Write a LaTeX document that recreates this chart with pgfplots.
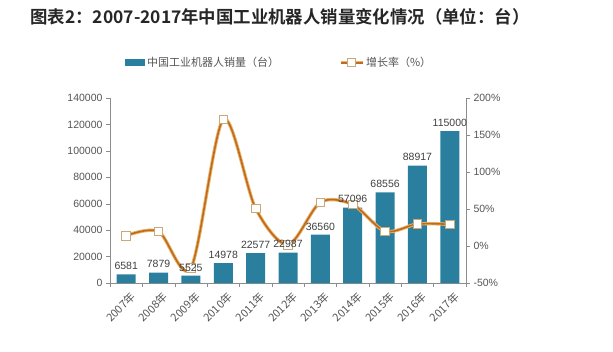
\documentclass[border=0pt]{standalone}
\usepackage{pgfplots}
\pgfplotsset{compat=1.18}
\usepackage{fontspec}
\setmainfont{Liberation Sans}
\newfontfamily\cjk{Noto Sans CJK SC}[BoldFont={Noto Sans CJK SC Bold}]
\definecolor{barc}{HTML}{2A7F9E}
\definecolor{lineo}{HTML}{E8B56A}
\definecolor{linei}{HTML}{C06A1E}
\definecolor{mk}{HTML}{C9A97A}
\definecolor{axc}{HTML}{8C8C8C}
\definecolor{tk}{HTML}{555555}
\pgfplotstableread{
x  y
0  6581
1  7879
2  5525
3  14978
4  22577
5  22987
6  36560
7  57096
8  68556
9  88917
10 115000
}\sales
\pgfplotstableread{
x  g
0  14
1  19.7
2  -29.9
3  171
4  50.7
5  1.8
6  59
7  56
8  20
9  29.7
10 29.3
}\growth
\begin{document}
\begin{tikzpicture}[x=1pt,y=1pt]
\useasboundingbox (0,0) rectangle (613,351);
\node[anchor=west, font=\cjk\bfseries\fontsize{17.4}{20}\selectfont, text=black!85] at (27,334) {图表2：2007-2017年中国工业机器人销量变化情况（单位：台）};

\begin{axis}[
 at={(110pt,68pt)}, anchor=south west, scale only axis, width=356pt, height=185pt,
 xmin=-0.5, xmax=10.5, ymin=0, ymax=140000,
 axis x line*=bottom, axis y line*=left,
 ybar, bar width=19pt,
 ytick={0,20000,...,140000},
 scaled y ticks=false,
 /pgf/number format/assume math mode=true,
 yticklabel style={/pgf/number format/fixed, /pgf/number format/1000 sep={}, font=\fontsize{10.5}{12}\selectfont, text=tk},
 xtick={0,...,10},
 xticklabels={2007年,2008年,2009年,2010年,2011年,2012年,2013年,2014年,2015年,2016年,2017年},
 xticklabel style={font=\cjk\fontsize{11}{13}\selectfont, rotate=45, anchor=north east, text=tk, yshift=-2pt, xshift=3pt},
 major x tick style={draw=none},
 minor xtick={-0.5,0.5,...,10.5},
 minor tick length=4pt, major tick length=4pt,
 tick align=outside,
 axis line style={axc}, tick style={axc},
 every tick/.style={axc},
 legend style={at={(0.475,1.19)}, anchor=center, draw=none, fill=none, legend columns=2, font=\cjk\fontsize{11}{14}\selectfont, text=tk, /tikz/every even column/.append style={column sep=58pt}},
 legend cell align=left,
]
\addplot[fill=barc, draw=none, legend image code/.code={\fill[barc] (0pt,-3.5pt) rectangle (20pt,3.5pt);}] table[x=x,y=y] {\sales};
\addlegendentry{中国工业机器人销量（台）}
\addlegendimage{legend image code/.code={\draw[lineo, line width=3pt] (0pt,0pt) -- (22pt,0pt); \draw[linei,line width=1.5pt](0pt,0pt)--(22pt,0pt); \draw[mk, fill=white, line width=0.8pt] (7pt,-4pt) rectangle (15pt,4pt);}}
\addlegendentry{增长率（\%）}
\end{axis}

\begin{axis}[
 at={(110pt,68pt)}, anchor=south west, scale only axis, width=356pt, height=185pt,
 xmin=-0.5, xmax=10.5, ymin=-50, ymax=200,
 axis x line=none, axis y line*=right,
 ytick={-50,0,...,200},
 /pgf/number format/assume math mode=true,
 yticklabel={\pgfmathprintnumber{\tick}\%},
 yticklabel style={font=\fontsize{10.5}{12}\selectfont, text=tk},
 major tick length=4pt, tick align=outside,
 axis line style={axc}, every tick/.style={axc},
 clip=false,
]
\addplot[lineo, line width=3.4pt, smooth] table[x=x,y=g] {\growth};
\addplot[linei, line width=1.6pt, smooth, mark=square*, mark size=4.3pt, mark options={fill=white, draw=mk, line width=0.8pt}] table[x=x,y=g] {\growth};
\end{axis}

\begin{axis}[
 at={(110pt,68pt)}, anchor=south west, scale only axis, width=356pt, height=185pt,
 xmin=-0.5, xmax=10.5, ymin=0, ymax=140000,
 hide axis, ybar, bar width=19pt, clip=false,
 nodes near coords={\pgfmathprintnumber[fixed,1000 sep={},assume math mode=true]{\pgfplotspointmeta}},
 nodes near coords style={font=\fontsize{10.5}{12}\selectfont, text=black!75, yshift=1pt},
]
\addplot[draw=none, fill=none] table[x=x,y=y] {\sales};
\end{axis}
\end{tikzpicture}
\end{document}
